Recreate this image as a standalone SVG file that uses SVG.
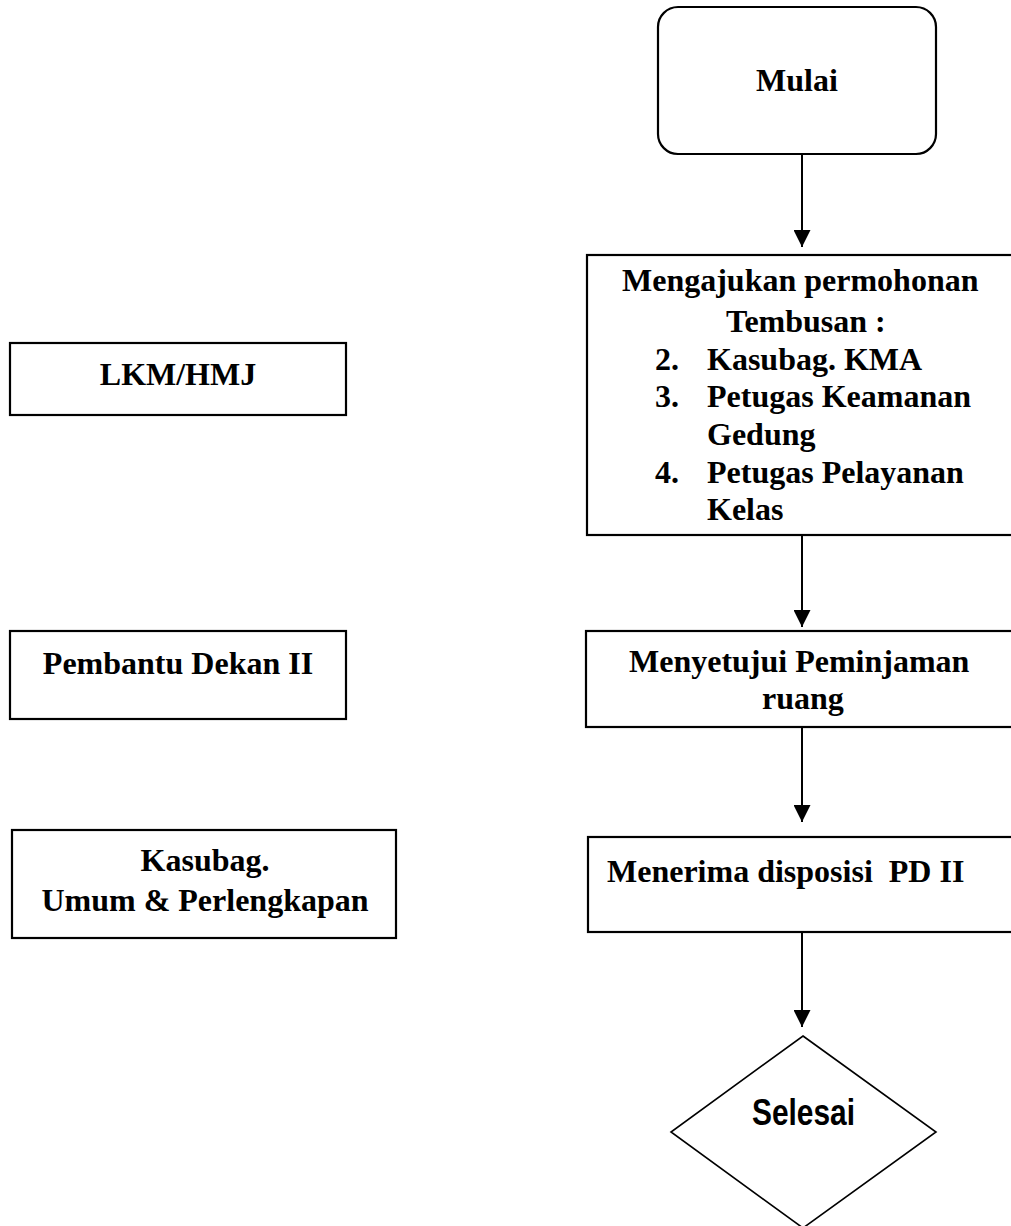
<svg xmlns="http://www.w3.org/2000/svg" width="1011" height="1226" viewBox="0 0 1011 1226">
  <style>
    .box { fill: #fff; stroke: #000; stroke-width: 2.2; }
    .dia { fill: #fff; stroke: #000; stroke-width: 1.6; }
    .t { font-family: "Liberation Serif", "Times New Roman", serif; font-weight: bold; font-size: 32px; fill: #000; }
    .c { text-anchor: middle; }
    .s { font-family: "Liberation Sans", Arial, sans-serif; font-weight: bold; font-size: 36px; fill: #000; }
    .ln { stroke: #000; stroke-width: 2; fill: none; }
  </style>
  <defs>
    <marker id="arrow" viewBox="0 0 10 10" refX="10" refY="5" markerWidth="8.5" markerHeight="8.5" markerUnits="strokeWidth" orient="auto">
      <path d="M0,0 L10,5 L0,10 Z" fill="#000"/>
    </marker>
  </defs>
  <rect width="1011" height="1226" fill="#fff"/>

  <!-- left column: actors -->
  <g id="lkm">
    <rect class="box" x="10" y="343" width="336" height="72"/>
    <text class="t c" x="178" y="385">LKM/HMJ</text>
  </g>
  <g id="pd2">
    <rect class="box" x="10" y="631" width="336" height="88"/>
    <text class="t c" x="178" y="674">Pembantu Dekan II</text>
  </g>
  <g id="kasubag">
    <rect class="box" x="12" y="830" width="384" height="108"/>
    <text class="t c" x="205" y="871">Kasubag.</text>
    <text class="t c" x="205" y="911">Umum &amp; Perlengkapan</text>
  </g>

  <!-- right column: process flow -->
  <g id="mulai">
    <rect class="box" x="658" y="7" width="278" height="147" rx="20" ry="20"/>
    <text class="t c" x="797" y="91">Mulai</text>
  </g>
  <g id="permohonan">
    <rect class="box" x="587" y="255" width="440" height="280"/>
    <text class="t" x="622" y="291">Mengajukan permohonan</text>
    <text class="t" x="726" y="332">Tembusan :</text>
    <text class="t" x="655" y="370">2.</text>
    <text class="t" x="707" y="370">Kasubag. KMA</text>
    <text class="t" x="655" y="407">3.</text>
    <text class="t" x="707" y="407">Petugas Keamanan</text>
    <text class="t" x="707" y="445">Gedung</text>
    <text class="t" x="655" y="483">4.</text>
    <text class="t" x="707" y="483">Petugas Pelayanan</text>
    <text class="t" x="707" y="520">Kelas</text>
  </g>
  <g id="menyetujui">
    <rect class="box" x="586" y="631" width="440" height="96"/>
    <text class="t" x="629" y="672">Menyetujui Peminjaman</text>
    <text class="t" x="762" y="709">ruang</text>
  </g>
  <g id="menerima">
    <rect class="box" x="588" y="837" width="440" height="95"/>
    <text class="t" x="607" y="882" xml:space="preserve">Menerima disposisi  PD II</text>
  </g>
  <g id="selesai">
    <polygon class="dia" points="803,1036 936,1132 803,1228 671,1132"/>
    <text class="s" x="752" y="1125" textLength="103" lengthAdjust="spacingAndGlyphs">Selesai</text>
  </g>

  <!-- connectors -->
  <g id="connectors">
    <line class="ln" x1="802" y1="154" x2="802" y2="247" marker-end="url(#arrow)"/>
    <line class="ln" x1="802" y1="535" x2="802" y2="627" marker-end="url(#arrow)"/>
    <line class="ln" x1="802" y1="727" x2="802" y2="822" marker-end="url(#arrow)"/>
    <line class="ln" x1="802" y1="932" x2="802" y2="1027" marker-end="url(#arrow)"/>
  </g>
</svg>
